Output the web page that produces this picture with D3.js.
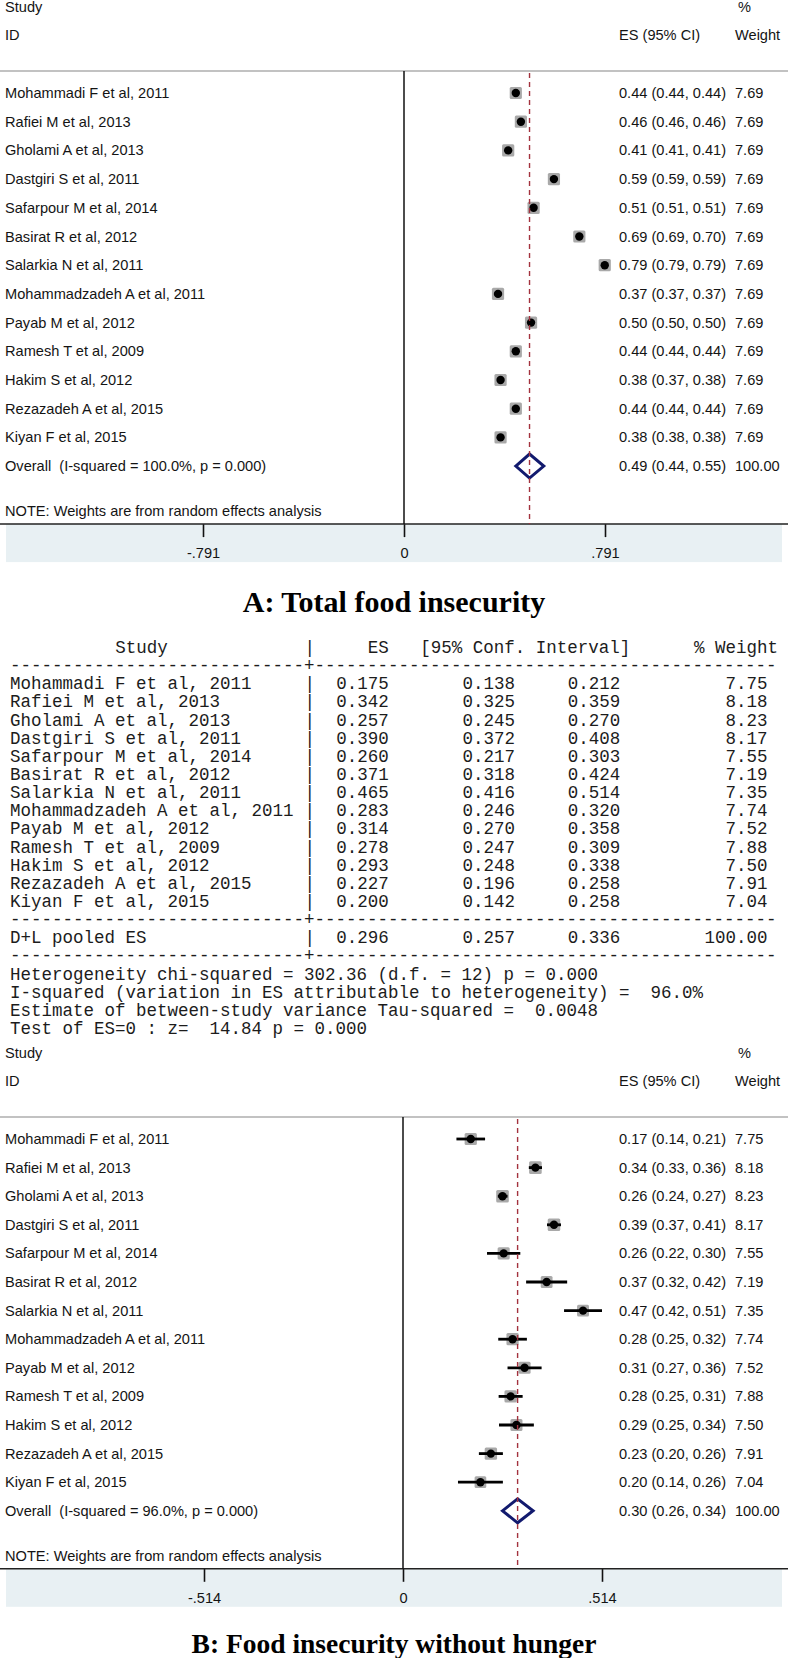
<!DOCTYPE html>
<html><head><meta charset="utf-8">
<script src="https://cdn.jsdelivr.net/npm/d3@7/dist/d3.min.js"></script>
<style>
html,body{margin:0;padding:0;background:#fff;}
svg{display:block;}
text{white-space:pre;}
</style></head><body>
<svg id="chart" width="788" height="1658"></svg>
<script>
// ---------- data ----------
const studies = ["Mohammadi F et al, 2011","Rafiei M et al, 2013","Gholami A et al, 2013","Dastgiri S et al, 2011","Safarpour M et al, 2014","Basirat R et al, 2012","Salarkia N et al, 2011","Mohammadzadeh A et al, 2011","Payab M et al, 2012","Ramesh T et al, 2009","Hakim S et al, 2012","Rezazadeh A et al, 2015","Kiyan F et al, 2015"];

// Panel A: total food insecurity
const esA = [0.44,0.46,0.41,0.59,0.51,0.69,0.79,0.37,0.50,0.44,0.38,0.44,0.38];
const loA = [0.44,0.46,0.41,0.59,0.51,0.69,0.79,0.37,0.50,0.44,0.37,0.44,0.38];
const hiA = [0.44,0.46,0.41,0.59,0.51,0.70,0.79,0.37,0.50,0.44,0.38,0.44,0.38];
const wA  = [7.69,7.69,7.69,7.69,7.69,7.69,7.69,7.69,7.69,7.69,7.69,7.69,7.69];
const pooledA = [0.494, 0.44, 0.55, 100.00];
const overallLabelA = "Overall  (I-squared = 100.0%, p = 0.000)";
const ticksA = [-0.791, 0, 0.791];
const tickLabelsA = ["-.791", "0", ".791"];

// Panel B: food insecurity without hunger
const esB = [0.175,0.342,0.257,0.390,0.260,0.371,0.465,0.283,0.314,0.278,0.293,0.227,0.200];
const loB = [0.138,0.325,0.245,0.372,0.217,0.318,0.416,0.246,0.270,0.247,0.248,0.196,0.142];
const hiB = [0.212,0.359,0.270,0.408,0.303,0.424,0.514,0.320,0.358,0.309,0.338,0.258,0.258];
const wB  = [7.75,8.18,8.23,8.17,7.55,7.19,7.35,7.74,7.52,7.88,7.50,7.91,7.04];
const pooledB = [0.296, 0.257, 0.336, 100.00];
const overallLabelB = "Overall  (I-squared = 96.0%, p = 0.000)";
const ticksB = [-0.514, 0, 0.514];
const tickLabelsB = ["-.514", "0", ".514"];
const statsLines = [
  "Heterogeneity chi-squared = 302.36 (d.f. = 12) p = 0.000",
  "I-squared (variation in ES attributable to heterogeneity) =  96.0%",
  "Estimate of between-study variance Tau-squared =  0.0048",
  "Test of ES=0 : z=  14.84 p = 0.000"
];
const noteText = "NOTE: Weights are from random effects analysis";
const titles = ["A: Total food insecurity", "B: Food insecurity without hunger"];

// ---------- drawing ----------
const svg = d3.select("#chart");
const W = 788;
const f2 = d3.format(".2f"), f3 = d3.format(".3f");
const SANS = "'Liberation Sans', Arial, sans-serif";
const MONO = "'Liberation Mono', 'DejaVu Sans Mono', monospace";
const SERIF = "'Liberation Serif', 'Times New Roman', serif";
const TXT = "#141414";

function forest(cfg) {
  const g = svg.append("g");
  const t = cfg.top;
  const x = d3.scaleLinear().domain([cfg.ticks[0], cfg.ticks[2]]).range([cfg.xl, cfg.xr]);
  const y = d3.scaleLinear().domain([0, 13]).range([cfg.first, cfg.first + 13 * cfg.step]);
  const overallY = y(13);
  const axisY = overallY + 58;
  const bandBottom = axisY + 38;
  const fs = 14.6;
  const txt = (s, xx, yy, anchor) => g.append("text").attr("x", xx).attr("y", yy)
      .attr("font-family", SANS).attr("font-size", fs).attr("fill", TXT)
      .attr("text-anchor", anchor || "start").text(s);

  // headers
  txt("Study", 5, t + 12);
  txt("%", 738, t + 12);
  txt("ID", 5, t + 40);
  txt("ES (95% CI)", 619, t + 40);
  txt("Weight", 735, t + 40);
  g.append("line").attr("x1", 0).attr("x2", W).attr("y1", t + 71).attr("y2", t + 71)
    .attr("stroke", "#c2c2c2").attr("stroke-width", 2);

  // band + axis
  g.append("rect").attr("x", 6).attr("y", axisY).attr("width", W - 12).attr("height", bandBottom - axisY)
    .attr("fill", "#e8f0f3");
  const ax = g.append("g").attr("transform", `translate(0,${axisY})`)
    .call(d3.axisBottom(x).tickValues(cfg.ticks).tickSize(13).tickPadding(11)
      .tickFormat((d, i) => cfg.tickLabels[i]));
  ax.select(".domain").remove();
  ax.selectAll("line").attr("stroke", "#111").attr("stroke-width", 1.6);
  ax.selectAll("text").attr("font-family", SANS).attr("font-size", fs).attr("fill", TXT);
  g.append("line").attr("x1", 0).attr("x2", W).attr("y1", axisY).attr("y2", axisY)
    .attr("stroke", "#222").attr("stroke-width", 1.5);

  // zero line
  g.append("line").attr("x1", x(0)).attr("x2", x(0)).attr("y1", t + 71).attr("y2", axisY)
    .attr("stroke", "#111").attr("stroke-width", 1.5);

  // rows
  const rows = studies.map((s, i) => ({s, es: cfg.es[i], lo: cfg.lo[i], hi: cfg.hi[i], w: cfg.w[i], i}));
  rows.forEach(r => {
    const yy = y(r.i);
    txt(r.s, 5, yy + 5);
    txt(`${f2(r.es)} (${f2(r.lo)}, ${f2(r.hi)})`, 619, yy + 5);
    txt(f2(r.w), 735, yy + 5);
    const side = 4.4 * Math.sqrt(r.w);
    g.append("rect").attr("x", x(r.es) - side / 2).attr("y", yy - side / 2)
      .attr("width", side).attr("height", side).attr("rx", 1.5)
      .attr("fill", "#a9a9a9");
    if (x(r.hi) - x(r.lo) > 0.5)
      g.append("line").attr("x1", x(r.lo)).attr("x2", x(r.hi)).attr("y1", yy).attr("y2", yy)
        .attr("stroke", "#000").attr("stroke-width", 2.8);
    g.append("circle").attr("cx", x(r.es)).attr("cy", yy).attr("r", 4.2).attr("fill", "#000");
  });

  // overall
  const p = cfg.pooled;
  txt(cfg.overallLabel, 5, overallY + 5);
  txt(`${f2(p[0])} (${f2(p[1])}, ${f2(p[2])})`, 619, overallY + 5);
  txt(f2(p[3]), 735, overallY + 5);
  const dh = 12;
  g.append("path")
    .attr("d", `M${x(p[1])},${overallY} L${x(p[0])},${overallY - dh} L${x(p[2])},${overallY} L${x(p[0])},${overallY + dh} Z`)
    .attr("fill", "none").attr("stroke", "#121a6e").attr("stroke-width", 3).attr("stroke-linejoin", "miter");
  g.append("line").attr("x1", x(p[0])).attr("x2", x(p[0])).attr("y1", t + 73).attr("y2", axisY)
    .attr("stroke", "#a3323e").attr("stroke-width", 1.4).attr("stroke-dasharray", "5,4");

  txt(noteText, 5, overallY + 50);

  g.append("text").attr("x", W / 2).attr("y", cfg.titleY).attr("text-anchor", "middle")
    .attr("font-family", SERIF).attr("font-weight", "bold").attr("font-size", cfg.titleSize)
    .attr("fill", "#000").text(cfg.title);
}

forest({top: 0, first: 93, step: 28.7, xl: 203, xr: 605, ticks: ticksA, tickLabels: tickLabelsA,
  es: esA, lo: loA, hi: hiA, w: wA, pooled: pooledA, overallLabel: overallLabelA,
  title: titles[0], titleY: 612, titleSize: 30});

forest({top: 1046, first: 1139, step: 28.6, xl: 204, xr: 602, ticks: ticksB, tickLabels: tickLabelsB,
  es: esB, lo: loB, hi: hiB, w: wB, pooled: pooledB, overallLabel: overallLabelB,
  title: titles[1], titleY: 1653, titleSize: 27.5});

// ---------- table ----------
const tg = svg.append("g");
const col = d3.scaleLinear().domain([0, 73]).range([10, 778]);
const line = d3.scaleLinear().domain([0, 21]).range([647, 1028]);
const mono = (s, c, li, anchor) => tg.append("text").attr("x", col(c)).attr("y", line(li) + 6)
  .attr("font-family", MONO).attr("font-size", 17.5).attr("fill", "#1c1c1c")
  .attr("text-anchor", anchor || "start").text(s);
const dashes = "-".repeat(28) + "+" + "-".repeat(44);

mono("Study", 12.5, 0, "middle");
mono("|", 28.5, 0, "middle");
mono("ES", 36, 0, "end");
mono("[95% Conf. Interval]", 39, 0);
mono("% Weight", 73, 0, "end");
mono(dashes, 0, 1);
studies.forEach((s, i) => {
  const li = 2 + i;
  mono(s, 0, li);
  mono("|", 28.5, li, "middle");
  mono(f3(esB[i]), 36, li, "end");
  mono(f3(loB[i]), 48, li, "end");
  mono(f3(hiB[i]), 58, li, "end");
  mono(f2(wB[i]), 72, li, "end");
});
mono(dashes, 0, 15);
mono("D+L pooled ES", 0, 16);
mono("|", 28.5, 16, "middle");
mono(f3(pooledB[0]), 36, 16, "end");
mono(f3(pooledB[1]), 48, 16, "end");
mono(f3(pooledB[2]), 58, 16, "end");
mono(f2(pooledB[3]), 72, 16, "end");
mono(dashes, 0, 17);
statsLines.forEach((s, i) => mono(s, 0, 18 + i));
</script>
</body></html>
